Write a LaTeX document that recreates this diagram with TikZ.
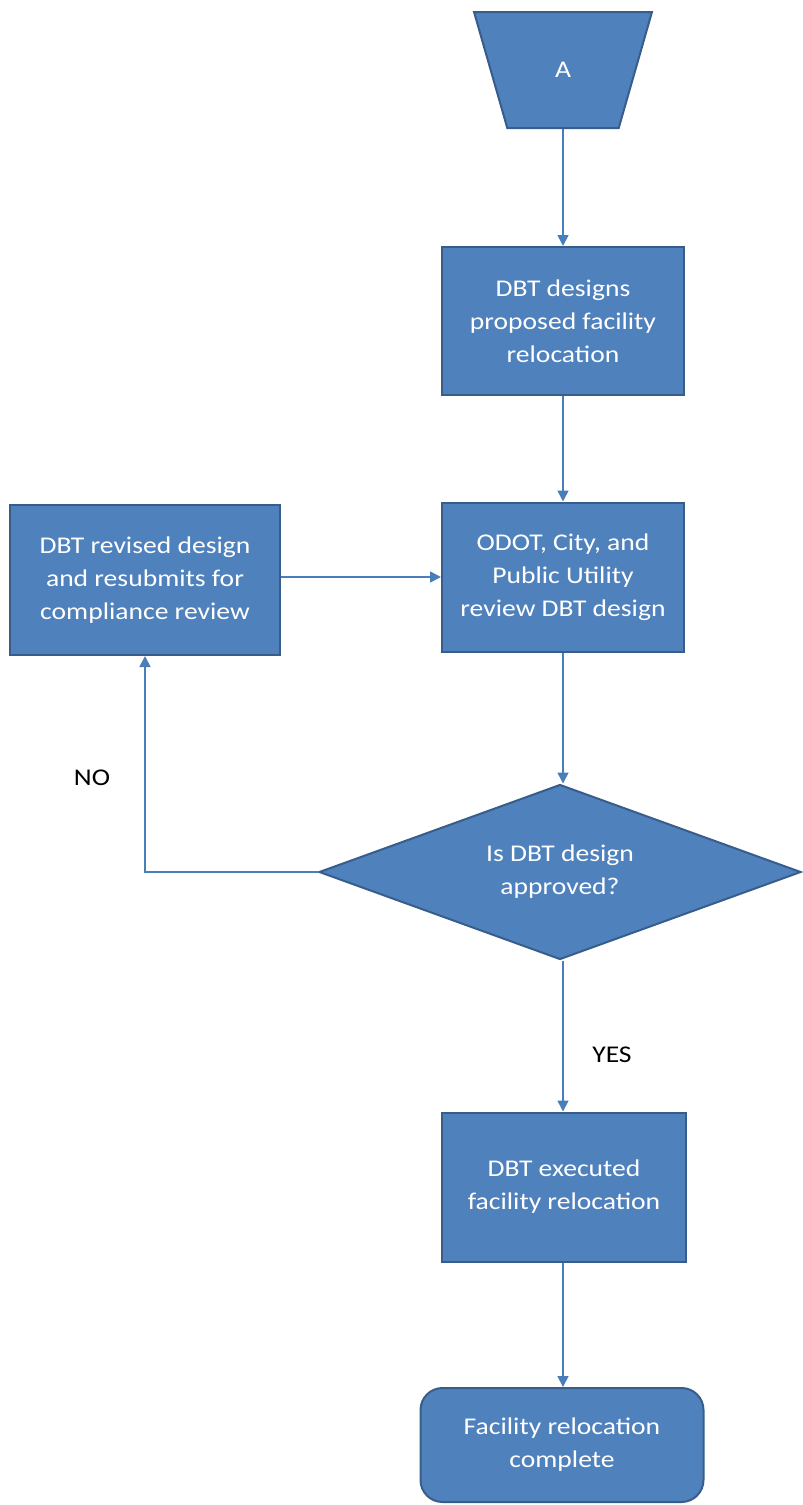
\documentclass[tikz,border=0pt]{standalone}
\usepackage{fontspec}
\setmainfont[FakeStretch=1.15]{Carlito}
\usetikzlibrary{shapes.geometric,arrows.meta}
\definecolor{boxfill}{HTML}{4F81BD}
\definecolor{boxline}{HTML}{385D8A}
\definecolor{arrowline}{HTML}{4A7EBB}
\tikzset{
  flowbox/.style={draw=boxline, fill=boxfill, line width=2pt, text=white, align=center,
    font=\fontsize{24}{33}\selectfont, inner sep=0pt},
  flowarrow/.style={draw=arrowline, line width=1.6pt, -{Triangle[width=11pt,length=11pt]}},
  flowlabel/.style={font=\fontsize{24}{33}\selectfont, text=black}
}
\begin{document}
\begin{tikzpicture}[x=1pt, y=-1pt]
        \useasboundingbox (0,0) rectangle (803,1505);

        \node[flowbox, trapezium, trapezium stretches=true, shape border rotate=180,
              trapezium angle=72.8, minimum width=178, minimum height=116] (start) at (563,70) {A};
        \node[flowbox, rectangle, minimum width=242, minimum height=148] (design) at (563,321)
              {DBT designs\\proposed facility\\relocation};
        \node[flowbox, rectangle, minimum width=242, minimum height=149] (review) at (563,577)
              {ODOT, City, and\\Public Utility\\review DBT design};
        \node[flowbox, rectangle, minimum width=270, minimum height=150] (revise) at (145,580)
              {DBT revised design\\and resubmits for\\compliance review};
        \node[flowbox, diamond, aspect=2.75, minimum width=482, minimum height=175] (approved) at (560,872)
              {Is DBT design\\approved?};
        \node[flowbox, rectangle, minimum width=244, minimum height=149] (execute) at (564,1187)
              {DBT executed\\facility relocation};
        \node[flowbox, rectangle, rounded corners=22pt, minimum width=283, minimum height=114] (done) at (562,1445)
              {Facility relocation\\complete};

        \node[flowlabel] (no) at (92,778) {NO};
        \node[flowlabel] (yes) at (612,1055) {YES};

        \path[flowarrow] (start.south) -- (design.north);
        \path[flowarrow] (design.south) -- (review.north);
        \path[flowarrow] (review.south) -- (review.south |- approved.north);
        \path[flowarrow] (revise.east |- review.west) -- (review.west);
        \path[flowarrow] (approved.west) -- (revise.south |- approved.west) -- (revise.south);
        \path[flowarrow] (review.south |- approved.south) -- (review.south |- execute.north);
        \path[flowarrow] (review.south |- execute.south) -- (review.south |- done.north);

    \end{tikzpicture}
\end{document}
